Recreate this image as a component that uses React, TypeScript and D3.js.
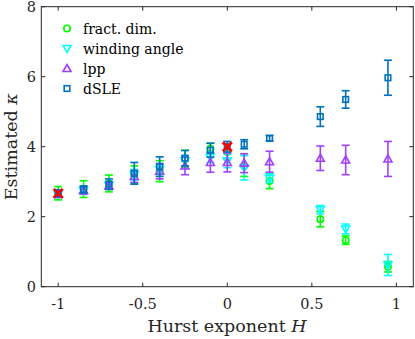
import React from "react";
import * as d3 from "d3";

const hurst = [-1, -0.85, -0.7, -0.55, -0.4, -0.25, -0.1, 0, 0.1, 0.25, 0.55, 0.7, 0.95];

const fractVal = [2.67, 2.79, 2.95, 3.2, 3.3, 3.65, 3.95, 3.85, 3.45, 3.02, 1.93, 1.33, 0.57];
const fractErr = [0.19, 0.24, 0.24, 0.25, 0.3, 0.25, 0.15, 0.22, 0.3, 0.22, 0.22, 0.12, 0.15];

const windVal = [2.65, 2.75, 2.9, 3.2, 3.35, 3.6, 3.7, 3.6, 3.4, 3.1, 2.2, 1.65, 0.62];
const windErr = [0.1, 0.1, 0.1, 0.15, 0.15, 0.15, 0.15, 0.2, 0.35, 0.12, 0.12, 0.14, 0.3];

const lppVal = [2.65, 2.75, 2.88, 3.15, 3.3, 3.45, 3.55, 3.55, 3.53, 3.57, 3.67, 3.62, 3.65];
const lppErr = [0.1, 0.1, 0.1, 0.17, 0.22, 0.25, 0.28, 0.27, 0.27, 0.3, 0.35, 0.42, 0.5];

const dsleVal = [2.67, 2.78, 2.93, 3.24, 3.43, 3.67, 3.9, 4.0, 4.07, 4.24, 4.86, 5.35, 5.97];
const dsleErr = [0.1, 0.1, 0.15, 0.31, 0.28, 0.22, 0.2, 0.15, 0.13, 0.08, 0.28, 0.25, 0.5];

const exactH = [-1, 0];
const exactKappa = [8 / 3, 4];

const xTicks = [-1, -0.5, 0, 0.5, 1];
const yTicks = [0, 2, 4, 6, 8];
const seriesNames = ["fract. dim.", "winding angle", "lpp", "dSLE"];

const W = 415;
const H = 339;
const M = { left: 41.3, right: 413.3, top: 6.7, bottom: 286.7 };

const x = d3.scaleLinear().domain([-1.1, 1.1]).range([M.left, M.right]);
const y = d3.scaleLinear().domain([0, 8]).range([M.bottom, M.top]);

const FONT = "DejaVu Serif";
const AXIS = "#262626";

type Series = { name: string; vals: number[]; errs: number[]; color: string; marker: string };

const series: Series[] = [
  { name: seriesNames[0], vals: fractVal, errs: fractErr, color: "#00ff00", marker: "circle" },
  { name: seriesNames[1], vals: windVal, errs: windErr, color: "#00ffff", marker: "tridown" },
  { name: seriesNames[2], vals: lppVal, errs: lppErr, color: "#a040ff", marker: "triup" },
  { name: seriesNames[3], vals: dsleVal, errs: dsleErr, color: "#0072bd", marker: "square" },
];

function Marker({ kind, cx, cy, color }: { kind: string; cx: number; cy: number; color: string }) {
  const sw = 1.6;
  if (kind === "circle") return <circle cx={cx} cy={cy} r={3.2} fill="none" stroke={color} strokeWidth={sw} />;
  if (kind === "square") return <rect x={cx - 2.8} y={cy - 2.8} width={5.6} height={5.6} fill="none" stroke={color} strokeWidth={sw} />;
  if (kind === "triup") {
    const s = 4;
    return <path d={`M${cx},${cy - s} L${cx + s},${cy + s * 0.75} L${cx - s},${cy + s * 0.75} Z`} fill="none" stroke={color} strokeWidth={sw} />;
  }
  if (kind === "tridown") {
    const s = 4;
    return <path d={`M${cx},${cy + s} L${cx + s},${cy - s * 0.75} L${cx - s},${cy - s * 0.75} Z`} fill="none" stroke={color} strokeWidth={sw} />;
  }
  return null;
}

export default function App() {
  const cap = 4;
  return (
    <svg width={W} height={H} style={{ position: "absolute", left: 0, top: 0, background: "#fff" }}>
      <rect x={0} y={0} width={W} height={H} fill="#fff" />
      {series.map((s) => (
        <g key={s.name}>
          {hurst.map((h, i) => {
            const cx = x(h);
            const y1 = y(s.vals[i] + s.errs[i]);
            const y2 = y(s.vals[i] - s.errs[i]);
            return (
              <g key={i} stroke={s.color} strokeWidth={1.6} fill="none">
                <line x1={cx} x2={cx} y1={y1} y2={y2} />
                <line x1={cx - cap} x2={cx + cap} y1={y1} y2={y1} />
                <line x1={cx - cap} x2={cx + cap} y1={y2} y2={y2} />
              </g>
            );
          })}
          {hurst.map((h, i) => (
            <Marker key={"m" + i} kind={s.marker} cx={x(h)} cy={y(s.vals[i])} color={s.color} />
          ))}
        </g>
      ))}
      {exactH.map((h, i) => {
        const cx = x(h);
        const cy = y(exactKappa[i]);
        const s = 4.5;
        return (
          <path key={"x" + i} d={`M${cx - s},${cy - s} L${cx + s},${cy + s} M${cx - s},${cy + s} L${cx + s},${cy - s}`} stroke="#ff0000" strokeWidth={2.8} />
        );
      })}
      <rect x={M.left} y={M.top} width={M.right - M.left} height={M.bottom - M.top} fill="none" stroke={AXIS} strokeWidth={1} />
      {xTicks.map((t) => (
        <g key={"xt" + t}>
          <line x1={x(t)} x2={x(t)} y1={M.bottom} y2={M.bottom - 4} stroke={AXIS} />
          <line x1={x(t)} x2={x(t)} y1={M.top} y2={M.top + 4} stroke={AXIS} />
          <text x={x(t)} y={309} textAnchor="middle" fontFamily={FONT} fontSize={14.5} fill="#262626">
            {String(t)}
          </text>
        </g>
      ))}
      {yTicks.map((t) => (
        <g key={"yt" + t}>
          <line x1={M.left} x2={M.left + 4} y1={y(t)} y2={y(t)} stroke={AXIS} />
          <line x1={M.right} x2={M.right - 4} y1={y(t)} y2={y(t)} stroke={AXIS} />
          <text x={36} y={y(t) + 5} textAnchor="end" fontFamily={FONT} fontSize={14.5} fill="#262626">
            {t}
          </text>
        </g>
      ))}
      <text x={227} y={332} textAnchor="middle" fontFamily={FONT} fontSize={17.5} fill="#262626">
        Hurst exponent <tspan fontStyle="italic">H</tspan>
      </text>
      <text transform={`translate(17,${(M.top + M.bottom) / 2}) rotate(-90)`} textAnchor="middle" fontFamily={FONT} fontSize={17.5} fill="#262626">
        Estimated <tspan fontStyle="italic">κ</tspan>
      </text>
      {series.map((s, i) => (
        <g key={"lg" + i}>
          <Marker kind={s.marker} cx={67} cy={28.5 + i * 20} color={s.color} />
          <text x={83} y={28.5 + i * 20 + 5} fontFamily={FONT} fontSize={14} fill="#000">
            {s.name}
          </text>
        </g>
      ))}
    </svg>
  );
}
